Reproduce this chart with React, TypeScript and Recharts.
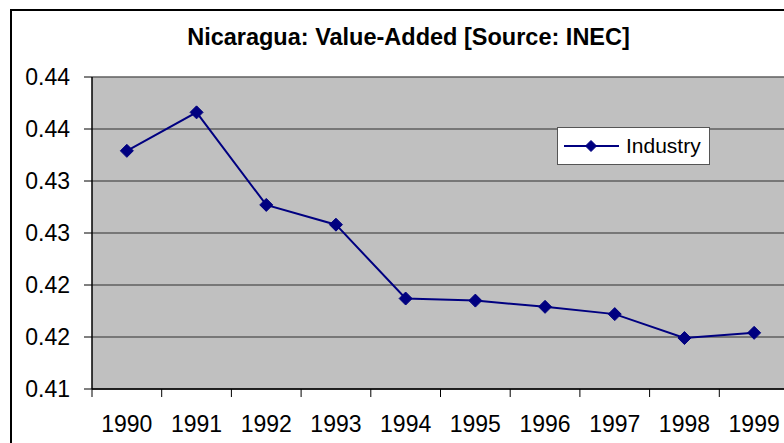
import React from 'react';
import { LineChart, Line, XAxis, YAxis, CartesianGrid, Legend } from 'recharts';

// Years on the category axis
const years = [1990, 1991, 1992, 1993, 1994, 1995, 1996, 1997, 1998, 1999];
// Industry value-added share
const industry = [0.4329, 0.4366, 0.4277, 0.4258, 0.4187, 0.4185, 0.4179, 0.4172, 0.4149, 0.4154];
// Y ticks and the (rounded) labels the original shows for them
const yTicks = [0.41, 0.415, 0.42, 0.425, 0.43, 0.435, 0.44];
const yLabels = ['0.41', '0.42', '0.42', '0.43', '0.43', '0.44', '0.44'];
// category boundaries for the x tick marks
const yearEdges = [...years.map((y) => y - 0.5), years[years.length - 1] + 0.5];

const data = years.map((year, i) => ({ year, Industry: industry[i] }));

const NAVY = '#000080';
const FONT = '"Liberation Sans", Arial, sans-serif';

const Diamond = ({ cx, cy, r }: { cx?: number; cy?: number; r: number }) => {
  if (cx == null || cy == null) return null;
  return (
    <polygon
      points={`${cx},${cy - r} ${cx + r},${cy} ${cx},${cy + r} ${cx - r},${cy}`}
      fill={NAVY}
      stroke={NAVY}
      strokeWidth={1}
    />
  );
};

const LegendBox = ({ payload }: any) => {
  const name = payload && payload[0] ? payload[0].value : 'Industry';
  return (
    <svg width={153} height={38} style={{ display: 'block' }}>
      <rect x={0.5} y={0.5} width={152} height={37} fill="#fff" stroke="#555" />
      <line x1={7} x2={62} y1={19} y2={19} stroke={NAVY} strokeWidth={2} />
      <Diamond cx={34} cy={19} r={5.5} />
      <text x={69} y={26} fontSize={21} fontFamily={FONT} fill="#000">{name}</text>
    </svg>
  );
};

export default function App() {
  return (
    <div style={{ position: 'absolute', left: 0, top: 0, width: 784, height: 443, overflow: 'hidden', background: '#fff' }}>
      <div
        style={{
          position: 'absolute', left: 10, top: 9, width: 800, height: 480,
          border: '2px solid #000', boxSizing: 'border-box',
        }}
      />
      <div
        style={{
          position: 'absolute', left: 10, top: 24, width: 797, textAlign: 'center',
          fontFamily: FONT, fontWeight: 'bold', fontSize: 23.5, lineHeight: 'normal', color: '#000',
        }}
      >
        Nicaragua: Value-Added [Source: INEC]
      </div>
      <div style={{ position: 'absolute', left: 0, top: 0 }}>
        <LineChart
          width={800}
          height={470}
          data={data}
          margin={{ top: 77, right: 11, left: 9, bottom: 40 }}
        >
          <CartesianGrid vertical={false} fill="#C0C0C0" stroke="#5f5f5f" strokeWidth={1.5} />
          {/* boundary tick marks between categories */}
          <XAxis
            dataKey="year"
            type="number"
            domain={[yearEdges[0], yearEdges[yearEdges.length - 1]]}
            ticks={yearEdges}
            interval={0}
            height={1}
            tickSize={8}
            tickFormatter={() => ''}
            axisLine={{ stroke: '#000', strokeWidth: 1.5 }}
            tickLine={{ stroke: '#000' }}
          />
          <XAxis
            xAxisId="labels"
            dataKey="year"
            type="number"
            domain={[yearEdges[0], yearEdges[yearEdges.length - 1]]}
            ticks={years}
            interval={0}
            height={40}
            axisLine={false}
            tickLine={false}
            tickSize={6}
            tickMargin={20}
            tick={{ fill: '#000', fontSize: 23, fontFamily: FONT }}
          />
          <YAxis
            width={83}
            domain={[yTicks[0], yTicks[yTicks.length - 1]]}
            ticks={yTicks}
            interval={0}
            tickFormatter={(v: number, i: number) => yLabels[i]}
            tickSize={8}
            tickMargin={14}
            axisLine={{ stroke: '#000', strokeWidth: 1.5 }}
            tickLine={{ stroke: '#000' }}
            tick={{ fill: '#000', fontSize: 23, fontFamily: FONT }}
          />
          <Legend
            layout="horizontal"
            verticalAlign="middle"
            align="center"
            content={<LegendBox />}
            wrapperStyle={{ left: 557, top: 127, width: 153, height: 38 }}
          />
          <Line
            xAxisId="labels"
            dataKey="Industry"
            stroke={NAVY}
            strokeWidth={2}
            dot={(p: any) => <Diamond key={`d-${p.index}`} cx={p.cx} cy={p.cy} r={6.5} />}
            activeDot={false}
            isAnimationActive={false}
          />
        </LineChart>
      </div>
    </div>
  );
}
